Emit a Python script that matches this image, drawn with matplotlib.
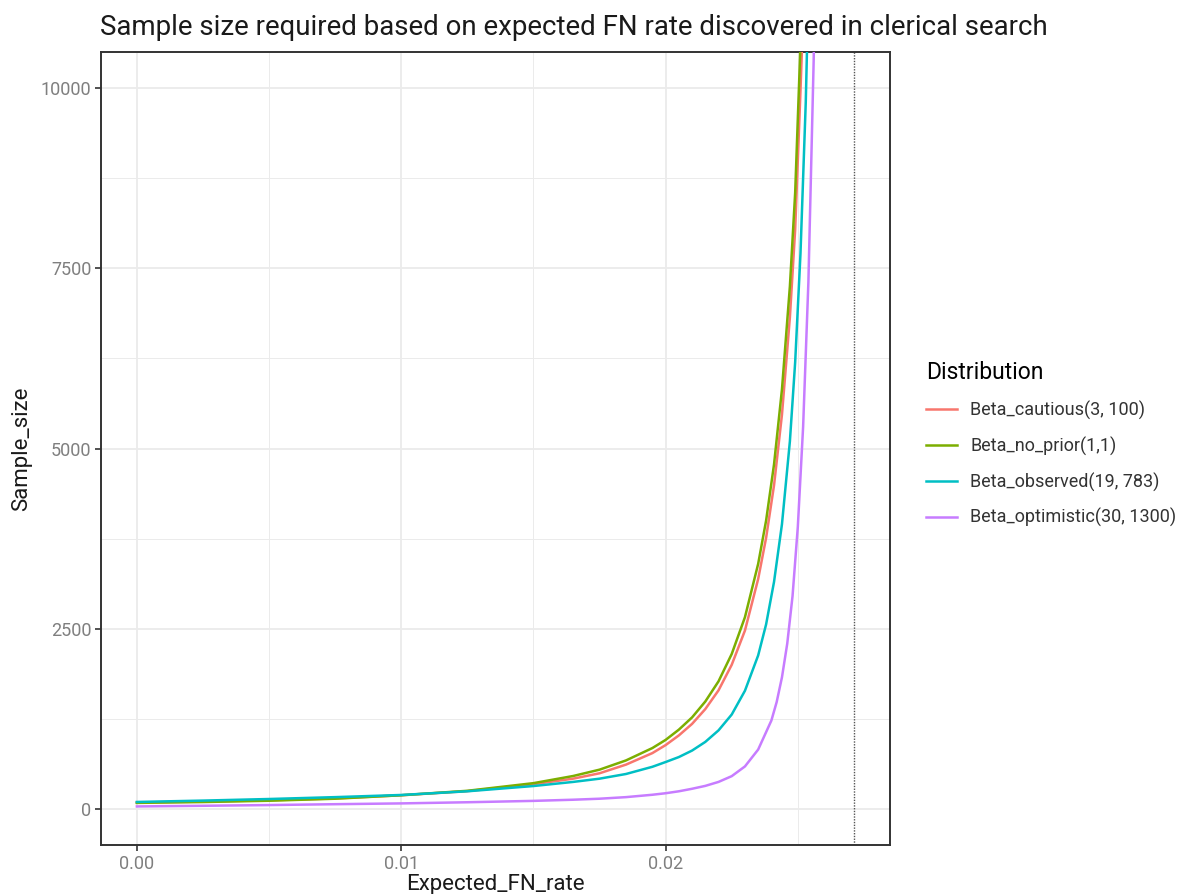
import matplotlib
matplotlib.use("Agg")
import matplotlib.pyplot as plt
from matplotlib.ticker import FixedLocator, FuncFormatter

plt.rcParams['font.family'] = ['Roboto', 'DejaVu Sans']

# Expected false-negative rate (x) and required sample size (y) per prior
rate_grid = [0.0, 0.0025, 0.005, 0.0075, 0.010, 0.0125, 0.015, 0.0165, 0.0175, 0.0185,
             0.0195, 0.0200, 0.0205, 0.0210, 0.0215, 0.0220, 0.0225, 0.0230, 0.0235]

cautious_x = rate_grid + [0.0238, 0.0241, 0.0244, 0.0247, 0.0249, 0.0251, 0.0253]
cautious_y = [90, 102, 120, 146, 190, 247, 344, 420, 495, 615, 775, 886, 1020, 1180, 1385,
              1645, 2000, 2475, 3190, 3760, 4490, 5470, 6820, 8040, 9960, 12030]

no_prior_x = rate_grid + [0.0238, 0.0241, 0.0244, 0.0247, 0.0249, 0.0251, 0.0253]
no_prior_y = [84, 96, 114, 142, 190, 252, 358, 457, 545, 673, 845, 958, 1100, 1270, 1490,
              1770, 2150, 2660, 3400, 4000, 4780, 5820, 7250, 8550, 10600, 12800]

observed_x = rate_grid + [0.0238, 0.0241, 0.0244, 0.0247, 0.0249, 0.0251, 0.0253, 0.0255]
observed_y = [97, 116, 138, 164, 194, 245, 318, 375, 420, 485, 585, 651, 720, 810, 930,
              1090, 1310, 1640, 2130, 2560, 3150, 3950, 5100, 6200, 7700, 9800, 12900]

optimistic_x = rate_grid + [0.0240, 0.0242, 0.0244, 0.0246, 0.0248, 0.0250, 0.0252, 0.0254,
                            0.0256, 0.0258]
optimistic_y = [35, 44, 54, 66, 77, 93, 112, 128, 142, 164, 197, 218, 245, 280, 320, 375,
                455, 590, 824, 1227, 1483, 1826, 2294, 2952, 3914, 5300, 7310, 10390, 15040]

series_labels = ["Beta_cautious(3, 100)", "Beta_no_prior(1,1)",
                 "Beta_observed(19, 783)", "Beta_optimistic(30, 1300)"]
series_x = [cautious_x, no_prior_x, observed_x, optimistic_x]
series_y = [cautious_y, no_prior_y, observed_y, optimistic_y]
series_colors = ["#F8766D", "#7CAE00", "#00BFC4", "#C77CFF"]

x_max_rate = 0.02713
x_ticks = [0.00, 0.01, 0.02]
x_minor = [0.005, 0.015, 0.025]
y_ticks = [0, 2500, 5000, 7500, 10000]
y_minor = [1250, 3750, 6250, 8750]

fig = plt.figure(figsize=(11.87, 8.94), dpi=100)
ax = fig.add_axes([101 / 1187, 1 - 845 / 894, (890 - 101) / 1187, (845 - 52) / 894])

for xs, ys, lab, col in zip(series_x, series_y, series_labels, series_colors):
    ax.plot(xs, ys, color=col, lw=1.8, label=lab, solid_joinstyle='round', zorder=3)

ax.axvline(x_max_rate, color="#555555", lw=1.0, ls=(0, (1, 1)), zorder=2)

pad = 0.05 * x_max_rate
ax.set_xlim(-pad, x_max_rate + pad)
ax.set_ylim(-500, 10500)

ax.xaxis.set_major_locator(FixedLocator(x_ticks))
ax.xaxis.set_minor_locator(FixedLocator(x_minor))
ax.yaxis.set_major_locator(FixedLocator(y_ticks))
ax.yaxis.set_minor_locator(FixedLocator(y_minor))
ax.xaxis.set_major_formatter(FuncFormatter(lambda v, p: f"{v:.2f}"))
ax.yaxis.set_major_formatter(FuncFormatter(lambda v, p: f"{int(v)}"))

ax.grid(which='major', color="#EBEBEB", lw=1.3, zorder=0)
ax.grid(which='minor', color="#EBEBEB", lw=0.7, zorder=0)
ax.set_axisbelow(True)

for s in ax.spines.values():
    s.set_color("#333333")
    s.set_linewidth(1.4)

ax.tick_params(which='major', length=4, width=1.2, color="#333333",
               labelsize=13, labelcolor="#7F7F7F", pad=3)
ax.tick_params(which='minor', length=0)

ax.set_xlabel("Expected_FN_rate", fontsize=16, color="#1A1A1A", labelpad=1)
ax.set_ylabel("Sample_size", fontsize=16, color="#1A1A1A", labelpad=6)

fig.text(100 / 1187, 1 - 35 / 894, "Sample size required based on expected FN rate discovered in clerical search",
         fontsize=19.9, color="#1A1A1A", ha='left', va='baseline')

leg = ax.legend(loc='upper left', bbox_to_anchor=(910 / 1187, 1 - 345 / 894),
                bbox_transform=fig.transFigure, frameon=False, title="Distribution",
                fontsize=13, title_fontsize=16.5, handlelength=1.7, handletextpad=0.75,
                labelspacing=0.92, alignment='left')
for t in leg.get_texts():
    t.set_color("#333333")
for h in leg.get_lines():
    h.set_linewidth(1.8)

fig.savefig("out.png", dpi=100)
